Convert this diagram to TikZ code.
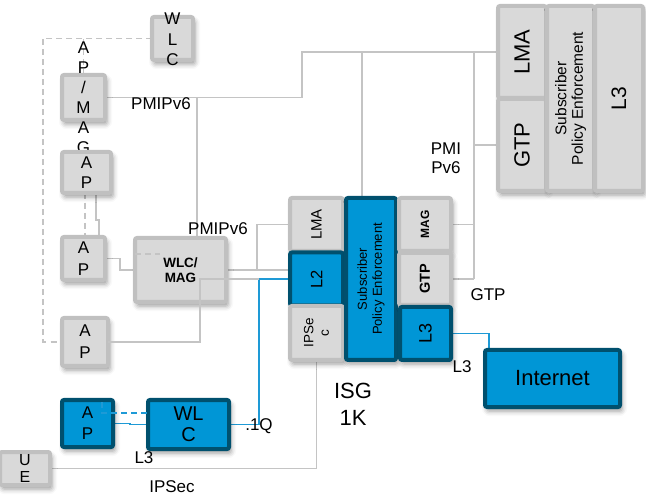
\documentclass[tikz,border=0pt]{standalone}
\usepackage{fontspec}
\setmainfont{Liberation Sans}
\usetikzlibrary{shadows.blur,backgrounds}
\definecolor{gfill}{HTML}{D9D9D9}
\definecolor{gborder}{HTML}{C0C0C0}
\definecolor{bfill}{HTML}{0096D6}
\definecolor{bborder}{HTML}{00506E}
\definecolor{lgray}{HTML}{C4C4C4}
\definecolor{bline}{HTML}{1E9AD6}
\newcommand\myfs[2]{\fontsize{#1}{#2}\selectfont}
\tikzset{
  box/.style={draw=gborder, fill=gfill, line width=4pt, rounded corners=2pt,
    inner sep=0pt, outer sep=0pt,
    blur shadow={shadow xshift=2pt, shadow yshift=-4pt, shadow blur radius=5pt, shadow opacity=40}},
  bbox/.style={box, draw=bborder, fill=bfill},
  txt/.style={inner sep=0pt, outer sep=0pt, align=center, text=black},
  conn/.style={draw=lgray, line width=1.2pt},
  dconn/.style={conn, dash pattern=on 6pt off 4pt},
  bconn/.style={draw=bline, line width=1.3pt},
  bdconn/.style={bconn, dash pattern=on 6pt off 4pt},
}
\begin{document}
\begin{tikzpicture}[x=1pt,y=-1pt]
\useasboundingbox (0,0) rectangle (646,497);

% ---- left side boxes
\node[box, minimum width=41pt, minimum height=43pt] (wlctop) at (172.5,38.5) {};
\node[txt, font=\myfs{17}{20.5}] (wlctopT) at (172.5,39.5) {W\\L\\C};
\node[box, minimum width=43pt, minimum height=45pt] (apmag) at (83.5,97.5) {};
\node[txt, font=\myfs{17}{20}] (apmagT) at (83.5,97.5) {A\\P\\/\\M\\A\\G};
\node[box, minimum width=49pt, minimum height=41pt] (ap1) at (86.5,172.5) {};
\node[txt, font=\myfs{17}{20}] (ap1T) at (ap1) {A\\P};
\node[box, minimum width=43pt, minimum height=43pt] (ap2) at (83.5,258.5) {};
\node[txt, font=\myfs{17}{22}] (ap2T) at (ap2) {A\\P};
\node[box, minimum width=91pt, minimum height=64pt] (wlcmag) at (180.5,270) {};
\node[txt, font=\bfseries\myfs{13.5}{15.5}] (wlcmagT) at (wlcmag) {WLC/\\MAG};
\node[box, minimum width=46pt, minimum height=48pt] (ap3) at (85,342) {};
\node[txt, font=\myfs{17}{22}] (ap3T) at (ap3) {A\\P};
\node[bbox, minimum width=51pt, minimum height=47pt] (apblue) at (87.5,423.5) {};
\node[txt, font=\myfs{17}{21}] (apblueT) at (apblue) {A\\P};
\node[bbox, minimum width=81pt, minimum height=49pt] (wlcblue) at (188.5,424.5) {};
\node[txt, font=\myfs{20}{21}] (wlcblueT) at (wlcblue) {WL\\C};
\node[box, minimum width=50pt, minimum height=33pt] (ue) at (25,468.5) {};
\node[txt, font=\myfs{16}{17}] (ueT) at (ue) {U\\E};

% ---- ISG cluster
\node[box, minimum width=53pt, minimum height=53pt] (lma) at (316.5,224.5) {};
\node[bbox, minimum width=53pt, minimum height=53pt] (l2) at (316.5,279) {};
\node[box, minimum width=53pt, minimum height=54pt] (ipsec) at (316.5,333) {};
\node[bbox, minimum width=50pt, minimum height=162pt] (spe) at (371,279) {};
\node[box, minimum width=52pt, minimum height=53pt] (mag) at (425,224.5) {};
\node[box, minimum width=52pt, minimum height=52pt] (gtp) at (425,279) {};
\node[bbox, minimum width=51pt, minimum height=53pt] (l3) at (425.5,333.5) {};
\node[txt, rotate=90, font=\myfs{15}{17}] (lmaT) at (lma) {LMA};
\node[txt, rotate=90, font=\myfs{16.5}{19}] (l2T) at (l2) {L2};
\node[txt, rotate=90, font=\myfs{13.5}{15.5}] (ipsecT) at (ipsec) {IPSe\\c};
\node[txt, rotate=90, font=\myfs{13}{15}] (speT) at (spe) {Subscriber\\Policy Enforcement};
\node[txt, rotate=90, font=\bfseries\myfs{12}{14}] (magT) at (mag) {MAG};
\node[txt, rotate=90, font=\bfseries\myfs{14.5}{16}] (gtpT) at (gtp) {GTP};
\node[txt, rotate=90, font=\myfs{18}{20}] (l3T) at (l3) {L3};

\node[bbox, minimum width=135pt, minimum height=57pt] (internet) at (552.5,378.5) {};
\node[txt, font=\myfs{22}{24}] (internetT) at (internet) {Internet};

% ---- top right cluster
\node[box, minimum width=48pt, minimum height=92pt] (lmatr) at (522,52) {};
\node[box, minimum width=48pt, minimum height=92pt] (gtptr) at (522,145) {};
\node[box, minimum width=47pt, minimum height=185pt] (spetr) at (570.5,98.5) {};
\node[box, minimum width=48pt, minimum height=185pt] (l3tr) at (619,98.5) {};
\node[txt, rotate=90, font=\myfs{22}{24}] (lmatrT) at (lmatr) {LMA};
\node[txt, rotate=90, font=\myfs{22}{24}] (gtptrT) at (gtptr) {GTP};
\node[txt, rotate=90, font=\myfs{15.5}{16.5}] (spetrT) at (spetr) {Subscriber\\Policy Enforcement};
\node[txt, rotate=90, font=\myfs{21}{23}] (l3trT) at (l3tr) {L3};

% ---- free labels
\node[txt, font=\myfs{17}{20}] (pmip1) at (161,104) {PMIPv6};
\node[txt, font=\myfs{17}{20}] (pmip2) at (218,229) {PMIPv6};
\node[txt, font=\myfs{17}{19.5}] (pmip3) at (446,158) {PMI\\Pv6};
\node[txt, font=\myfs{17}{20}] (gtpL) at (488,295) {GTP};
\node[txt, font=\myfs{17}{20}] (l3L) at (462,367) {L3};
\node[txt, font=\myfs{22}{27}] (isgL) at (353,404) {ISG\\1K};
\node[txt, font=\myfs{17}{20}] (dotq) at (259,426) {.1Q};
\node[txt, font=\myfs{17}{20}] (l3L2) at (144,458) {L3};
\node[txt, font=\myfs{17}{20}] (ipsecL) at (172,487) {IPSec};

% ---- overlay connectors (drawn above boxes)
\draw[conn] (ap3.east) -| (200,279) -- (259,279);
\draw[dconn] (wlcmag.west |- 0,254) -- (160,254);
\draw[bdconn] (102,402) -- (102,413) -- (wlcblue.west |- 0,413);

% ---- connectors behind boxes
\begin{scope}[on background layer]
\draw[dconn] (wlctop.west) -- (43,38.5) |- (ap3.west);
\draw[dconn] (apmag.north) -- (apmag.north |- wlctop.west);
\draw[conn] (apmag.east) -- (302,97.5) |- (lmatr.west);
\draw[conn] (197,97.5) -- (wlcmag.north -| 197,0);
\draw[conn] (362,52) -- (spe.north -| 362,0);
\draw[conn] (474,52) -- (474,279);
\draw[conn] (mag.east) -- (mag.east -| 474,0);
\draw[conn] (gtp.east) -- (gtp.east -| 474,0);
\draw[conn] (474,145) -- (gtptr.west);
\draw[conn] (lma.west) -| (257,270);
\draw[conn] (wlcmag.east |- 0,270) -- (l2.west |- 0,270);
\draw[conn] (ap1.south -| 96,0) -- (96,220) -- (99,220) -- (99,242);
\draw[dconn] (ap1.south -| 85,0) -- (ap2.north -| 85,0);
\draw[conn] (ap2.east) -- (120,258.5) |- (wlcmag.west);
\draw[conn] (ue.east) -| (ipsec.south);
\draw[bconn] (l2.west) -- (259,279) |- (wlcblue.east);
\draw[bconn] (apblue.east) -- (130,423.5) |- (wlcblue.west);
\draw[bconn] (l3.east) -- (489,333.5) -- (internet.north -| 489,0);
\end{scope}
\end{tikzpicture}
\end{document}
